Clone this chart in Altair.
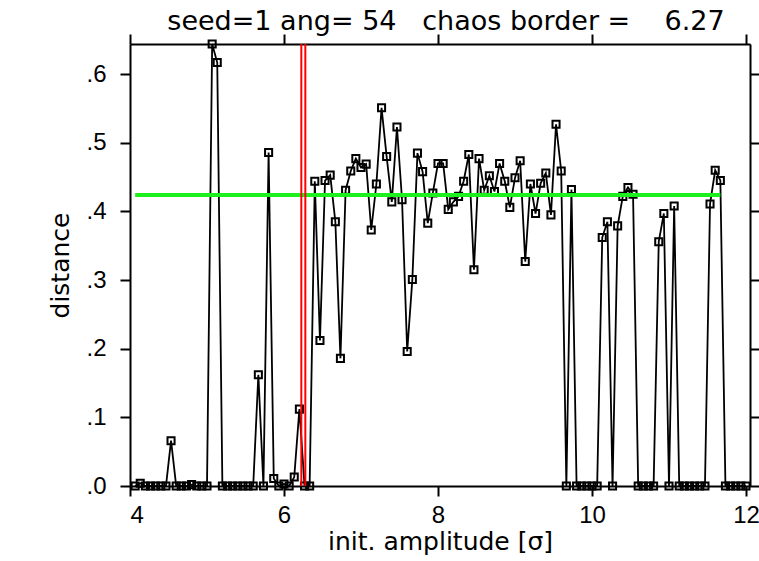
import altair as alt
import pandas as pd

# initial amplitude grid (sigma)
amplitude = [
    4.067, 4.133, 4.2, 4.267, 4.333, 4.4, 4.467, 4.533, 4.6, 4.667, 4.733, 4.8, 4.867, 4.933, 5.0,
    5.067, 5.133, 5.2, 5.267, 5.333, 5.4, 5.467, 5.533, 5.6, 5.667, 5.733, 5.8, 5.867, 5.933, 6.0,
    6.067, 6.133, 6.2, 6.267, 6.333, 6.4, 6.467, 6.533, 6.6, 6.667, 6.733, 6.8, 6.867, 6.933, 7.0,
    7.067, 7.133, 7.2, 7.267, 7.333, 7.4, 7.467, 7.533, 7.6, 7.667, 7.733, 7.8, 7.867, 7.933, 8.0,
    8.067, 8.133, 8.2, 8.267, 8.333, 8.4, 8.467, 8.533, 8.6, 8.667, 8.733, 8.8, 8.867, 8.933, 9.0,
    9.067, 9.133, 9.2, 9.267, 9.333, 9.4, 9.467, 9.533, 9.6, 9.667, 9.733, 9.8, 9.867, 9.933, 10.0,
    10.067, 10.133, 10.2, 10.267, 10.333, 10.4, 10.467, 10.533, 10.6, 10.667, 10.733, 10.8, 10.867, 10.933, 11.0,
    11.067, 11.133, 11.2, 11.267, 11.333, 11.4, 11.467, 11.533, 11.6, 11.667, 11.733, 11.8, 11.867, 11.933, 12.0,
]
distance = [
    0, 0.004, 0, 0, 0, 0, 0, 0.066, 0, 0, 0, 0.002, 0, 0, 0,
    0.644, 0.617, 0, 0, 0, 0, 0, 0, 0, 0.162, 0, 0.486, 0.011, 0, 0.003,
    0, 0.013, 0.112, 0, 0, 0.444, 0.212, 0.445, 0.453, 0.385, 0.186, 0.431, 0.459, 0.477, 0.464,
    0.469, 0.373, 0.440, 0.551, 0.480, 0.414, 0.523, 0.417, 0.196, 0.301, 0.485, 0.458, 0.383, 0.427, 0.470,
    0.470, 0.403, 0.414, 0.422, 0.444, 0.483, 0.315, 0.477, 0.431, 0.452, 0.429, 0.470, 0.444, 0.406, 0.449,
    0.474, 0.327, 0.440, 0.397, 0.441, 0.456, 0.395, 0.527, 0.459, 0, 0.432, 0, 0, 0, 0,
    0, 0.362, 0.385, 0, 0.379, 0.422, 0.435, 0.425, 0, 0, 0, 0, 0.356, 0.397, 0,
    0.408, 0, 0, 0, 0, 0, 0, 0.411, 0.460, 0.445, 0, 0, 0, 0, 0,
]
border_lines = [6.225, 6.277]
mean_level = [0.424]
mean_from = [4.067]
mean_to = [11.667]
x_ticks = [4, 6, 8, 10, 12]
y_ticks = [0.0, 0.1, 0.2, 0.3, 0.4, 0.5, 0.6]
NB = "\u00a0"
title_text = "seed=1 ang=" + NB + "54" + NB * 3 + "chaos border =" + NB * 4 + "6.27"

FONT = "DejaVu Sans"
LFONT = "Liberation Sans"
df = pd.DataFrame({"amplitude": amplitude, "distance": distance})

xscale = alt.Scale(domain=[4, 12.052], nice=False, zero=False)
yscale = alt.Scale(domain=[0, 0.644], nice=False, zero=False)

common_axis = dict(grid=False, domainColor="black", domainWidth=2, tickColor="black",
                   tickWidth=2, tickSize=10, labelColor="black", labelFont=LFONT,
                   labelFontSize=24, titleFont=FONT, titleFontSize=25,
                   titleFontWeight="normal", titleColor="black")

x_bottom = alt.Axis(values=x_ticks, orient="bottom", title="init. amplitude [σ]",
                    labelPadding=7, titlePadding=2, format="d", **common_axis)
y_left = alt.Axis(values=y_ticks, orient="left", title="distance",
                  labelExpr="replace(format(datum.value, '.1f'), '0.', '.')",
                  labelPadding=14, titlePadding=12, **common_axis)
x_top = alt.Axis(values=x_ticks, orient="top", labels=False, title=None, **common_axis)
y_right = alt.Axis(values=y_ticks, orient="right", labels=False, title=None, **common_axis)

line = alt.Chart(df).mark_line(color="black", strokeWidth=1.8).encode(
    x=alt.X("amplitude:Q", scale=xscale, axis=x_bottom),
    y=alt.Y("distance:Q", scale=yscale, axis=y_left),
)
points = alt.Chart(df).mark_point(shape="square", filled=False, color="black",
                                  strokeWidth=2, size=50, opacity=1).encode(
    x=alt.X("amplitude:Q", scale=xscale, axis=x_top),
    y=alt.Y("distance:Q", scale=yscale, axis=y_right),
)
green = alt.Chart(pd.DataFrame({"x": mean_from, "x2": mean_to, "y": mean_level})).mark_rule(
    color="#1ef01e", strokeWidth=4).encode(
    x=alt.X("x:Q", scale=xscale, axis=None),
    x2="x2:Q",
    y=alt.Y("y:Q", scale=yscale, axis=None),
)
red = alt.Chart(pd.DataFrame({"x": border_lines})).mark_rule(
    color="#ff0000", strokeWidth=2).encode(
    x=alt.X("x:Q", scale=xscale, axis=None),
)

chart = alt.layer(line, points, green, red).resolve_axis(
    x="independent", y="independent"
).properties(
    width=620, height=442,
    title=alt.TitleParams(title_text, font=FONT, fontSize=27, fontWeight="normal",
                          color="black", anchor="middle", offset=-3, dx=6),
    autosize=alt.AutoSizeParams(type="none"),
    padding={"left": 130, "top": 44, "right": 9, "bottom": 75},
).configure_view(stroke="black", strokeWidth=2).configure(background="white")

chart.save("out.html", embed_options={"renderer": "svg", "actions": False})
